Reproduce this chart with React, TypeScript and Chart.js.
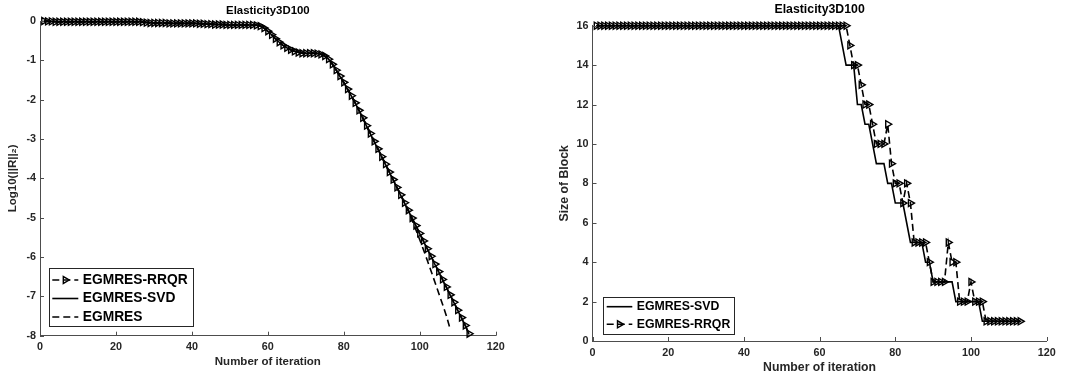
import React, { useEffect, useRef } from 'react';
import { Chart, registerables } from 'chart.js';

Chart.register(...registerables);

const FONT_FAMILY = '"Liberation Sans", Arial, Helvetica, sans-serif';
const AXIS_COLOR = '#4d4d4d';
const TEXT_COLOR = '#262626';

// ---------- data ----------
const chartTitle = 'Elasticity3D100';
const xAxisTitle = 'Number of iteration';
const leftYAxisTitle = 'Log10(||R||₂)';
const rightYAxisTitle = 'Size of Block';
const nameRRQR = 'EGMRES-RRQR';
const nameSVD = 'EGMRES-SVD';
const nameEGMRES = 'EGMRES';

const xTicks = [0, 20, 40, 60, 80, 100, 120];
const leftYTicks = [0, -1, -2, -3, -4, -5, -6, -7, -8];
const rightYTicks = [0, 2, 4, 6, 8, 10, 12, 14, 16];

// log10 residual per iteration (iterations 1..n)
const leftRRQR = [
  0, -0.01, -0.01, -0.02, -0.02, -0.02, -0.02, -0.02, -0.02, -0.02,
  -0.02, -0.02, -0.02, -0.02, -0.02, -0.02, -0.02, -0.02, -0.02, -0.02,
  -0.02, -0.02, -0.02, -0.02, -0.02, -0.02, -0.03, -0.04, -0.05, -0.05,
  -0.05, -0.05, -0.05, -0.06, -0.06, -0.06, -0.06, -0.06, -0.06, -0.06,
  -0.06, -0.07, -0.07, -0.08, -0.08, -0.09, -0.09, -0.09, -0.1, -0.1,
  -0.1, -0.1, -0.1, -0.1, -0.1, -0.1, -0.11, -0.13, -0.18, -0.26,
  -0.35, -0.45, -0.54, -0.62, -0.68, -0.73, -0.77, -0.8, -0.82, -0.82,
  -0.82, -0.82, -0.83, -0.85, -0.89, -0.97, -1.1, -1.25, -1.4, -1.56,
  -1.73, -1.9, -2.08, -2.27, -2.46, -2.66, -2.86, -3.06, -3.25, -3.45,
  -3.64, -3.84, -4.03, -4.23, -4.42, -4.62, -4.81, -5.01, -5.2, -5.4,
  -5.59, -5.79, -5.98, -6.18, -6.37, -6.57, -6.76, -6.96, -7.15, -7.35,
  -7.54, -7.74, -7.95,
];
const leftSVD = [
  0, -0.01, -0.01, -0.02, -0.02, -0.02, -0.02, -0.02, -0.02, -0.02,
  -0.02, -0.02, -0.02, -0.02, -0.02, -0.02, -0.02, -0.02, -0.02, -0.02,
  -0.02, -0.02, -0.02, -0.02, -0.02, -0.02, -0.03, -0.04, -0.05, -0.05,
  -0.05, -0.05, -0.05, -0.06, -0.06, -0.06, -0.06, -0.06, -0.06, -0.06,
  -0.06, -0.07, -0.07, -0.08, -0.08, -0.09, -0.09, -0.09, -0.1, -0.1,
  -0.1, -0.1, -0.1, -0.1, -0.1, -0.1, -0.11, -0.13, -0.18, -0.26,
  -0.35, -0.45, -0.54, -0.62, -0.68, -0.73, -0.77, -0.8, -0.82, -0.82,
  -0.82, -0.82, -0.83, -0.85, -0.89, -0.97, -1.1, -1.25, -1.41, -1.57,
  -1.74, -1.91, -2.09, -2.28, -2.47, -2.67, -2.87, -3.07, -3.26, -3.46,
  -3.65, -3.85, -4.04, -4.24, -4.43, -4.63, -4.82, -5.02, -5.21, -5.41,
  -5.6, -5.8, -5.99, -6.19, -6.38, -6.58, -6.77, -6.97, -7.16, -7.36,
  -7.55, -7.75, -7.97,
];
const leftEGMRES = [
  0, -0.01, -0.01, -0.02, -0.02, -0.02, -0.02, -0.02, -0.02, -0.02,
  -0.02, -0.02, -0.02, -0.02, -0.02, -0.02, -0.02, -0.02, -0.02, -0.02,
  -0.02, -0.02, -0.02, -0.02, -0.02, -0.02, -0.03, -0.04, -0.05, -0.05,
  -0.05, -0.05, -0.05, -0.06, -0.06, -0.06, -0.06, -0.06, -0.06, -0.06,
  -0.06, -0.07, -0.07, -0.08, -0.08, -0.09, -0.09, -0.09, -0.1, -0.1,
  -0.1, -0.1, -0.1, -0.1, -0.1, -0.1, -0.11, -0.13, -0.18, -0.26,
  -0.35, -0.45, -0.54, -0.62, -0.68, -0.73, -0.77, -0.8, -0.82, -0.82,
  -0.82, -0.82, -0.83, -0.85, -0.89, -0.97, -1.1, -1.25, -1.4, -1.56,
  -1.73, -1.9, -2.08, -2.27, -2.46, -2.66, -2.86, -3.06, -3.25, -3.45,
  -3.64, -3.84, -4.03, -4.23, -4.42, -4.62, -4.84, -5.07, -5.31, -5.56,
  -5.82, -6.09, -6.36, -6.64, -6.92, -7.2, -7.49, -7.83,
];

// block size per iteration (iterations 1..n)
const rightSVD = [
  16, 16, 16, 16, 16, 16, 16, 16, 16, 16,
  16, 16, 16, 16, 16, 16, 16, 16, 16, 16,
  16, 16, 16, 16, 16, 16, 16, 16, 16, 16,
  16, 16, 16, 16, 16, 16, 16, 16, 16, 16,
  16, 16, 16, 16, 16, 16, 16, 16, 16, 16,
  16, 16, 16, 16, 16, 16, 16, 16, 16, 16,
  16, 16, 16, 16, 16, 15, 14, 14, 14, 12,
  12, 11, 11, 10, 9, 9, 9, 8, 8, 7,
  7, 7, 6, 5, 5, 5, 5, 4, 4, 3,
  3, 3, 3, 3, 3, 2, 2, 2, 2, 2,
  2, 2, 1, 1, 1, 1, 1, 1, 1, 1,
  1, 1, 1,
];
const rightRRQR = [
  16, 16, 16, 16, 16, 16, 16, 16, 16, 16,
  16, 16, 16, 16, 16, 16, 16, 16, 16, 16,
  16, 16, 16, 16, 16, 16, 16, 16, 16, 16,
  16, 16, 16, 16, 16, 16, 16, 16, 16, 16,
  16, 16, 16, 16, 16, 16, 16, 16, 16, 16,
  16, 16, 16, 16, 16, 16, 16, 16, 16, 16,
  16, 16, 16, 16, 16, 16, 16, 15, 14, 14,
  13, 12, 12, 11, 10, 10, 10, 11, 9, 8,
  8, 7, 8, 7, 5, 5, 5, 5, 4, 3,
  3, 3, 3, 5, 4, 4, 2, 2, 2, 3,
  2, 2, 2, 1, 1, 1, 1, 1, 1, 1,
  1, 1, 1,
];

// ---------- helpers ----------
const toPoints = (values: number[]) => values.map((v, i) => ({ x: i + 1, y: v }));

function drawRightTriangle(ctx: CanvasRenderingContext2D, x: number, y: number, r: number) {
  ctx.beginPath();
  ctx.moveTo(x + r, y);
  ctx.lineTo(x - 0.5 * r, y + 0.866 * r);
  ctx.lineTo(x - 0.5 * r, y - 0.866 * r);
  ctx.closePath();
  ctx.stroke();
}

type LegendItem = { label: string; dataset: number; y: number };
type LegendSpec = {
  box: [number, number, number, number];
  lineX1: number;
  lineX2: number;
  textX: number;
  fontSize: number;
  items: LegendItem[];
};

function makeLegendPlugin(spec: LegendSpec) {
  return {
    id: 'matlabLegend',
    afterDraw(chart: any) {
      const ctx: CanvasRenderingContext2D = chart.ctx;
      const [x1, y1, x2, y2] = spec.box;
      ctx.save();
      ctx.fillStyle = '#ffffff';
      ctx.fillRect(x1, y1, x2 - x1, y2 - y1);
      ctx.strokeStyle = TEXT_COLOR;
      ctx.lineWidth = 1;
      ctx.setLineDash([]);
      ctx.strokeRect(Math.round(x1) + 0.5, Math.round(y1) + 0.5, Math.round(x2 - x1), Math.round(y2 - y1));
      spec.items.forEach((it) => {
        const ds = chart.data.datasets[it.dataset];
        ctx.strokeStyle = ds.borderColor;
        ctx.lineWidth = ds.borderWidth;
        ctx.setLineDash(ds.borderDash || []);
        ctx.beginPath();
        ctx.moveTo(spec.lineX1, it.y);
        ctx.lineTo(spec.lineX2, it.y);
        ctx.stroke();
        ctx.setLineDash([]);
        if (ds.pointRadius > 0) {
          ctx.lineWidth = ds.pointBorderWidth;
          drawRightTriangle(ctx, (spec.lineX1 + spec.lineX2) / 2, it.y, ds.pointRadius);
        }
        ctx.fillStyle = '#000000';
        ctx.font = `bold ${spec.fontSize}px ${FONT_FAMILY}`;
        ctx.textBaseline = 'middle';
        ctx.textAlign = 'left';
        ctx.fillText(it.label, spec.textX, it.y);
      });
      ctx.restore();
    },
  };
}

const innerTicksPlugin = {
  id: 'innerTicks',
  afterDraw(chart: any) {
    const { ctx, chartArea, scales } = chart;
    ctx.save();
    ctx.strokeStyle = AXIS_COLOR;
    ctx.lineWidth = 1;
    scales.x.ticks.forEach((t: any) => {
      const px = Math.round(scales.x.getPixelForValue(t.value)) + 0.5;
      ctx.beginPath();
      ctx.moveTo(px, chartArea.bottom);
      ctx.lineTo(px, chartArea.bottom - 4);
      ctx.stroke();
    });
    scales.y.ticks.forEach((t: any) => {
      const py = Math.round(scales.y.getPixelForValue(t.value)) + 0.5;
      ctx.beginPath();
      ctx.moveTo(chartArea.left, py);
      ctx.lineTo(chartArea.left + 4, py);
      ctx.stroke();
    });
    ctx.restore();
  },
};

type PanelSpec = {
  left: number;
  width: number;
  height: number;
  plotLeft: number;
  plotRight: number;
  plotTop: number;
  plotBottom: number;
  titleSize: number;
  titleCenterY: number;
  axisTitleSize: number;
  xTitleCenterY: number;
  yTitleCenterX: number;
  tickSize: number;
  xTickPadding: number;
  yTickPadding: number;
  yTitle: string;
  yMin: number;
  yMax: number;
  yTicks: number[];
  datasets: any[];
  legend: LegendSpec;
};

function Panel({ spec }: { spec: PanelSpec }) {
  const ref = useRef<HTMLCanvasElement | null>(null);
  useEffect(() => {
    if (!ref.current) return;
    const titleLH = spec.titleSize * 1.2;
    const titlePadTop = spec.titleCenterY - titleLH / 2;
    const titlePadBottom = spec.plotTop - titlePadTop - titleLH;
    const axisLH = spec.axisTitleSize * 1.2;
    const xAxisHeight = spec.height - spec.plotBottom;
    const xTitlePadBottom = spec.height - spec.xTitleCenterY - axisLH / 2;
    const yTitlePadTop = spec.yTitleCenterX - axisLH / 2;
    const tickFont = { family: FONT_FAMILY, size: spec.tickSize, weight: 'bold' as const };
    const axisFont = { family: FONT_FAMILY, size: spec.axisTitleSize, weight: 'bold' as const };

    const chart = new Chart(ref.current, {
      type: 'line',
      data: { datasets: spec.datasets },
      options: {
        responsive: false,
        animation: false,
        events: [],
        layout: {
          padding: { left: 0, top: 0, right: spec.width - spec.plotRight, bottom: 0 },
        },
        plugins: {
          legend: { display: false },
          tooltip: { enabled: false },
          title: {
            display: true,
            text: chartTitle,
            fullSize: false,
            color: '#000000',
            font: { family: FONT_FAMILY, size: spec.titleSize, weight: 'bold', lineHeight: 1.2 },
            padding: { top: titlePadTop, bottom: titlePadBottom },
          },
        },
        scales: {
          x: {
            type: 'linear',
            min: 0,
            max: 120,
            afterBuildTicks: (scale: any) => {
              scale.ticks = xTicks.map((v) => ({ value: v }));
            },
            afterFit: (scale: any) => {
              scale.height = xAxisHeight;
            },
            grid: { display: false, drawTicks: false },
            border: { display: true, color: AXIS_COLOR, width: 1 },
            ticks: { color: TEXT_COLOR, font: tickFont, padding: spec.xTickPadding, maxRotation: 0 },
            title: {
              display: true,
              text: xAxisTitle,
              color: TEXT_COLOR,
              font: { ...axisFont, lineHeight: 1.2 },
              padding: { top: 0, bottom: xTitlePadBottom },
            },
          },
          y: {
            type: 'linear',
            min: spec.yMin,
            max: spec.yMax,
            afterBuildTicks: (scale: any) => {
              scale.ticks = spec.yTicks.map((v) => ({ value: v }));
            },
            afterFit: (scale: any) => {
              scale.width = spec.plotLeft;
            },
            grid: { display: false, drawTicks: false },
            border: { display: true, color: AXIS_COLOR, width: 1 },
            ticks: { color: TEXT_COLOR, font: tickFont, padding: spec.yTickPadding },
            title: {
              display: true,
              text: spec.yTitle,
              color: TEXT_COLOR,
              font: { ...axisFont, lineHeight: 1.2 },
              padding: { top: yTitlePadTop, bottom: 0 },
            },
          },
        },
      } as any,
      plugins: [innerTicksPlugin, makeLegendPlugin(spec.legend)],
    });
    return () => chart.destroy();
  }, [spec]);

  return (
    <canvas
      ref={ref}
      width={spec.width}
      height={spec.height}
      style={{ position: 'absolute', left: spec.left, top: 0, width: spec.width, height: spec.height, display: 'block' }}
    />
  );
}

const rrqrStyle = {
  borderColor: '#000000',
  borderWidth: 1.6,
  borderDash: [7, 4],
  pointStyle: 'triangle',
  pointRotation: 90,
  pointRadius: 4,
  pointBorderWidth: 1.4,
  pointBorderColor: '#000000',
  pointBackgroundColor: 'rgba(0,0,0,0)',
  fill: false,
  tension: 0,
  clip: false,
};
const solidStyle = {
  borderColor: '#000000',
  borderWidth: 1.6,
  borderDash: [],
  pointRadius: 0,
  fill: false,
  tension: 0,
  clip: false,
};
const dashedStyle = {
  borderColor: '#000000',
  borderWidth: 1.6,
  borderDash: [7, 4],
  pointRadius: 0,
  fill: false,
  tension: 0,
  clip: false,
};

const leftSpec: PanelSpec = {
  left: 0,
  width: 537,
  height: 376,
  plotLeft: 40,
  plotRight: 495.7,
  plotTop: 21,
  plotBottom: 335.7,
  titleSize: 11.4,
  titleCenterY: 11,
  axisTitleSize: 11.5,
  xTitleCenterY: 362,
  yTitleCenterX: 13,
  tickSize: 10.8,
  xTickPadding: 5,
  yTickPadding: 4,
  yTitle: leftYAxisTitle,
  yMin: -8,
  yMax: 0,
  yTicks: leftYTicks,
  datasets: [
    { label: nameRRQR, data: toPoints(leftRRQR), ...rrqrStyle },
    { label: nameSVD, data: toPoints(leftSVD), ...solidStyle },
    { label: nameEGMRES, data: toPoints(leftEGMRES), ...dashedStyle },
  ],
  legend: {
    box: [49, 268.3, 192.7, 326.7],
    lineX1: 52.3,
    lineX2: 78.3,
    textX: 82.7,
    fontSize: 13.8,
    items: [
      { label: nameRRQR, dataset: 0, y: 280 },
      { label: nameSVD, dataset: 1, y: 298.5 },
      { label: nameEGMRES, dataset: 2, y: 317 },
    ],
  },
};

const rightSpec: PanelSpec = {
  left: 537,
  width: 538,
  height: 376,
  plotLeft: 55.5,
  plotRight: 509.7,
  plotTop: 25.7,
  plotBottom: 341,
  titleSize: 12.3,
  titleCenterY: 10,
  axisTitleSize: 12.25,
  xTitleCenterY: 368,
  yTitleCenterX: 28,
  tickSize: 10.8,
  xTickPadding: 6,
  yTickPadding: 4,
  yTitle: rightYAxisTitle,
  yMin: 0,
  yMax: 16,
  yTicks: rightYTicks,
  datasets: [
    { label: nameSVD, data: toPoints(rightSVD), ...solidStyle },
    { label: nameRRQR, data: toPoints(rightRRQR), ...rrqrStyle },
  ],
  legend: {
    box: [66.3, 296.7, 197.3, 334],
    lineX1: 69.7,
    lineX2: 95.3,
    textX: 99.7,
    fontSize: 12.3,
    items: [
      { label: nameSVD, dataset: 0, y: 306.7 },
      { label: nameRRQR, dataset: 1, y: 324.3 },
    ],
  },
};

export default function App() {
  return (
    <div
      style={{
        position: 'fixed',
        left: 0,
        top: 0,
        width: 1075,
        height: 376,
        background: '#ffffff',
        overflow: 'hidden',
      }}
    >
      <Panel spec={leftSpec} />
      <Panel spec={rightSpec} />
    </div>
  );
}
